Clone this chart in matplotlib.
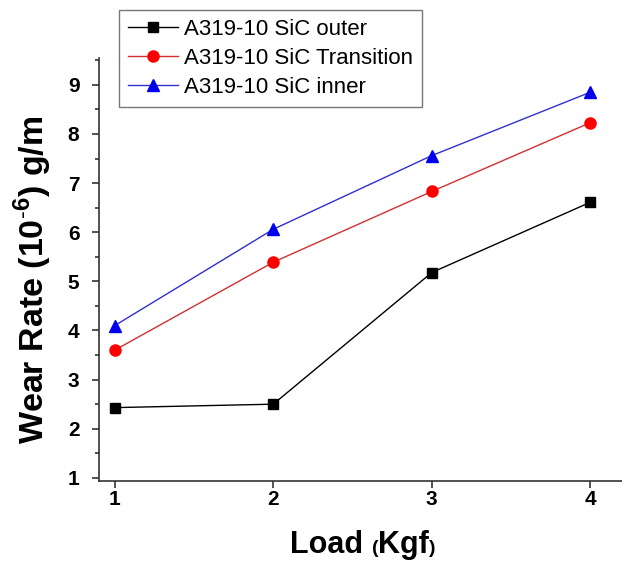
import numpy as np
import matplotlib
matplotlib.use('Agg')
import matplotlib.pyplot as plt
from matplotlib.ticker import MultipleLocator
from matplotlib.offsetbox import TextArea, HPacker, AnchoredOffsetbox

plt.rcParams['font.family'] = ['Liberation Sans', 'DejaVu Sans']
plt.rcParams['mathtext.fontset'] = 'custom'
plt.rcParams['mathtext.rm'] = 'Liberation Sans'
plt.rcParams['mathtext.bf'] = 'Liberation Sans:bold'

# datos
load = [1, 2, 3, 4]
outer = [2.43, 2.50, 5.18, 6.61]
transition = [3.60, 5.39, 6.83, 8.23]
inner = [4.10, 6.06, 7.56, 8.85]
labels = ['A319-10 SiC outer', 'A319-10 SiC Transition', 'A319-10 SiC inner']

fig = plt.figure(figsize=(6.22, 5.67), dpi=100)
ax = fig.add_axes([0.159, 0.152, 0.841, 0.746])

ax.plot(load, outer, color='black', lw=1, marker='s', ms=7, label=labels[0])
ax.plot(load, transition, color='#d03030', lw=1, marker='o', ms=8,
        mfc='red', mec='red', label=labels[1])
ax.plot(load, inner, color='#3030d0', lw=1, marker='^', ms=8.5,
        mfc='#0000ee', mec='#0000ee', label=labels[2])

ax.set_xlim(0.9, 4.2)
ax.set_ylim(0.94, 9.55)
ax.set_xticks(load)
ax.yaxis.set_major_locator(MultipleLocator(1))
ax.yaxis.set_minor_locator(MultipleLocator(0.5))

for s in ['top', 'right']:
    ax.spines[s].set_visible(False)
for s in ['left', 'bottom']:
    ax.spines[s].set_color('#333333')
    ax.spines[s].set_linewidth(1.2)

ax.tick_params(axis='both', which='major', length=5, width=1.2, color='#333333',
               labelsize=15)
ax.tick_params(axis='y', which='minor', length=3, width=1.2, color='#333333')
ax.tick_params(axis='y', pad=9)
ax.tick_params(axis='x', pad=1.5)
for t in ax.get_xticklabels() + ax.get_yticklabels():
    t.set_fontweight('bold')

ax.set_ylabel(r'Wear Rate (10$^{\mathbf{\text{-}6}}$) g/m', fontsize=24.5,
              fontweight='bold')
ax.yaxis.set_label_coords(-0.086, 0.475)

# etiqueta x con parentesis mas chicos
partes = [TextArea('Load ', textprops=dict(fontsize=22, fontweight='bold')),
          TextArea('(', textprops=dict(fontsize=14, fontweight='bold')),
          TextArea('Kgf', textprops=dict(fontsize=22, fontweight='bold')),
          TextArea(')', textprops=dict(fontsize=14, fontweight='bold'))]
caja = HPacker(children=partes, align='baseline', pad=0, sep=0)
xlab = AnchoredOffsetbox(loc='lower center', child=caja, frameon=False,
                         bbox_to_anchor=(0.583, 0.003),
                         bbox_transform=fig.transFigure, borderpad=0)
fig.add_artist(xlab)

leg = fig.legend(loc='upper left', bbox_to_anchor=(0.191, 0.983), fontsize=16,
                 handlelength=2.25, handletextpad=0.27, borderpad=0.42,
                 labelspacing=0.36, fancybox=False, edgecolor='#555555',
                 borderaxespad=0)
leg.get_frame().set_linewidth(1)

fig.savefig('out.png', dpi=100)
